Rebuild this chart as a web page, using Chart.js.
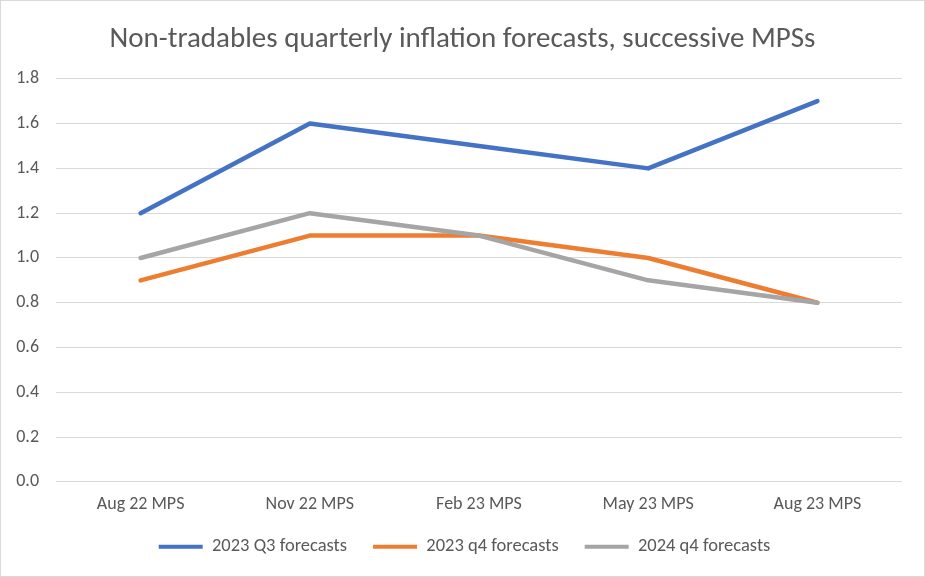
<!DOCTYPE html>
<html>
<head>
<meta charset="utf-8">
<script src="https://cdn.jsdelivr.net/npm/chart.js@4"></script>
<style>
  html, body { margin: 0; padding: 0; background: #fff; }
  #wrap { position: relative; width: 925px; height: 577px; box-sizing: border-box; border: 1px solid #d9d9d9; }
  canvas { display: block; }
</style>
</head>
<body>
<div id="wrap"><canvas id="c"></canvas></div>
<script>
const categories = ["Aug 22 MPS", "Nov 22 MPS", "Feb 23 MPS", "May 23 MPS", "Aug 23 MPS"];
const q3_2023 = [1.2, 1.6, 1.5, 1.4, 1.7];
const q4_2023 = [0.9, 1.1, 1.1, 1.0, 0.8];
const q4_2024 = [1.0, 1.2, 1.1, 0.9, 0.8];
const seriesNames = ["2023 Q3 forecasts", "2023 q4 forecasts", "2024 q4 forecasts"];
const yTicks = [0, 0.2, 0.4, 0.6, 0.8, 1.0, 1.2, 1.4, 1.6, 1.8];

const FONT = "Carlito, Calibri, Lato, 'Open Sans', sans-serif";
const TXT = "#595959";

function ds(label, data, color, order) {
  return {
    label, data,
    borderColor: color, backgroundColor: color,
    borderWidth: 4.5, pointRadius: 0, pointHoverRadius: 0,
    tension: 0, borderCapStyle: "round", borderJoinStyle: "round",
    order
  };
}

// nudges the title and legend boxes so they centre like the original
const nudge = {
  id: "nudge",
  afterLayout(chart) {
    const lg = chart.legend;
    if (lg) { lg.left += 13; lg.right += 13; lg.top -= 8; lg.bottom -= 8; }
    const t = chart.titleBlock;
    if (t) { t.left += 11; t.right += 11; }
  }
};

new Chart(document.getElementById("c"), {
  type: "line",
  data: {
    labels: categories,
    datasets: [
      ds(seriesNames[0], q3_2023, "#4472C4", 3),
      ds(seriesNames[1], q4_2023, "#ED7D31", 2),
      ds(seriesNames[2], q4_2024, "#A5A5A5", 1)
    ]
  },
  plugins: [nudge],
  options: {
    responsive: true,
    maintainAspectRatio: false,
    animation: false,
    layout: { padding: { left: 0, right: 22, top: 21, bottom: 2 } },
    plugins: {
      title: {
        display: true,
        text: "Non-tradables quarterly inflation forecasts, successive MPSs",
        color: TXT,
        font: { family: FONT, size: 29, weight: "normal" },
        padding: { top: 0, bottom: 22 }
      },
      legend: {
        position: "bottom",
        labels: {
          color: TXT,
          font: { family: FONT, size: 18.5 },
          boxWidth: 44,
          boxHeight: 4,
          padding: 26,
          generateLabels(chart) {
            return chart.data.datasets.map((d, i) => ({
              text: d.label, fillStyle: d.borderColor, strokeStyle: d.borderColor,
              lineWidth: 0, hidden: false, datasetIndex: i, fontColor: TXT
            }));
          }
        }
      },
      tooltip: { enabled: false }
    },
    scales: {
      x: {
        offset: true,
        grid: { display: false },
        border: { display: false },
        ticks: { color: TXT, font: { family: FONT, size: 18 }, padding: 4, maxRotation: 0 }
      },
      y: {
        min: 0, max: 1.8,
        afterBuildTicks(scale) { scale.ticks = yTicks.map(v => ({ value: v })); },
        afterFit(scale) { scale.width = 55; },
        grid: { color: "#d9d9d9", lineWidth: 1, drawTicks: false },
        border: { display: false },
        ticks: {
          color: TXT, font: { family: FONT, size: 18 }, padding: 17,
          callback: v => Number(v).toFixed(1)
        }
      }
    }
  }
});
</script>
</body>
</html>
